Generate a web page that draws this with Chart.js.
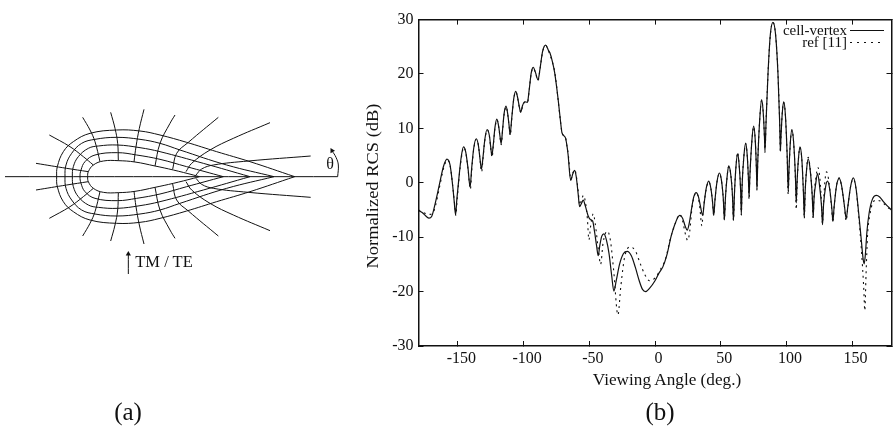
<!DOCTYPE html>
<html>
<head>
<meta charset="utf-8">
<script src="https://cdn.jsdelivr.net/npm/chart.js@4/dist/chart.umd.min.js"></script>
<style>
    html, body { margin: 0; padding: 0; background: #fff; }
    #page { position: relative; width: 893px; height: 428px; overflow: hidden; font-family: "Liberation Serif", serif; color: #111; }
    canvas { position: absolute; top: 0; }
    #meshChart { left: 0; }
    #rcsChart { left: 345px; }
    .label { position: absolute; white-space: nowrap; transform: translate(-50%, -50%); }
    .legend-text { position: absolute; right: 46px; font-size: 15px; line-height: 14px; white-space: nowrap; }
    .legend-line { position: absolute; left: 850px; width: 34px; height: 1px; }
</style>
</head>
<body>
<div id="page">
    <canvas id="meshChart" width="345" height="428"></canvas>
    <canvas id="rcsChart" width="548" height="428"></canvas>
    <div class="label" style="left:330px;top:164px;font-size:16px;">θ</div>
    <div class="label" style="left:164px;top:262px;font-size:16.5px;">TM / TE</div>
    <div class="label" style="left:128px;top:412px;font-size:25px;">(a)</div>
    <div class="label" style="left:660px;top:412px;font-size:25px;">(b)</div>
    <div class="label" style="left:667px;top:380px;font-size:17.2px;">Viewing Angle (deg.)</div>
    <div class="label" style="left:373px;top:185.5px;font-size:17px;transform:translate(-50%, -50%) rotate(-90deg) scaleX(1.085);">Normalized RCS (dB)</div>
    <div class="legend-text" style="top:23px;">cell-vertex</div>
    <div class="legend-line" style="top:30px;background:#111;"></div>
    <div class="legend-text" style="top:35px;">ref [11]</div>
    <div class="legend-line" style="top:42px;background:repeating-linear-gradient(90deg, #111 0 2px, transparent 2px 7px);"></div>
</div>
<script>
// Viewing angle sweep
const solidAngles = [
    -180, -177, -174, -172, -170, -167, -164, -161, -158.4, -156, -154, -152.8, -151.8, -150.8, -149, -147.5, -145.8,
    -144, -142.3, -140.7, -139.6, -138, -136.1, -134.5, -133, -132.1, -131, -129.5, -127.8, -126, -125, -124.2,
    -123, -121.8, -120.4, -119, -118, -117.1, -116, -114.8, -113.4, -112, -111, -110.3, -109, -107.5, -106,
    -104.5, -103.3, -102.2, -100.8, -99.2, -97.1, -95.8, -94.2, -92.6, -91, -89, -87.5, -85.5, -83.2,
    -81, -80, -78, -76.4, -73.8, -72, -70.8, -68.2, -67, -66.2, -64.2, -62.5, -61.2, -60, -58.5, -57.4,
    -56, -54.6, -53, -51, -49, -47.5, -46, -44.5, -43.2, -42, -40.5, -38.9, -37, -35, -33, -31.3,
    -29.5, -27, -24, -21.1, -18, -15, -12, -9.5, -7.2, -4.2, 0, 3, 5.9, 9, 12.3, 15, 18.8,
    21, 23, 24.5, 26, 28, 29.5, 31.3, 33, 34.5, 36.3, 37.5, 39, 40.9, 42.5, 43.8, 44.7, 45.6, 47.2, 49,
    50.5, 52, 52.8, 53.6, 55, 56.1, 57.5, 59, 59.7, 60.5, 61.7, 62.9, 64, 65.2, 65.7, 66.3, 67.7, 69,
    70.2, 71.1, 71.6, 72.2, 73.7, 75.1, 76.3, 77.2, 77.6, 78.2, 79.8, 81.2, 82.4, 83.3, 83.7, 84.5, 86, 87.8, 89.8,
    91.8, 93.6, 94.9, 95.4, 95.9, 96.8, 97.9, 99.2, 100.6, 101.4, 102, 103, 104.2, 105.5, 106.9, 107.5, 108.2, 109.2, 110.3,
    111.7, 113, 113.6, 114.3, 115.4, 116.6, 118, 119.7, 120.4, 121, 122.4, 123.7, 125, 126.8, 127.5, 128.3, 129.8, 131.3,
    133, 134.7, 135.4, 136.3, 138.2, 140.2, 142, 144.3, 145.5, 146.7, 149, 151, 153, 155, 157, 158.4, 159.2, 160, 161.3,
    163, 165.5, 168.5, 171, 174, 177, 180
];
const solidValues = [
    -5.1, -5.5, -6.2, -6.5, -6.2, -3.5, -0.2, 3, 4.35, 3.3, -0.5, -3.5, -5.9, -3, 1.5, 4.7, 6.6,
    5.6, 2.6, -0.8, 2.5, 6.3, 8.1, 7, 4, 2.5, 4.5, 8, 9.8, 8.6, 6.5, 5,
    7.2, 10.2, 11.7, 10.4, 8.6, 7.2, 9.8, 12.8, 14.1, 12.5, 10.4, 8.9, 12, 15.5, 16.8,
    15.6, 14, 13, 14.2, 14.9, 14.8, 17, 20.2, 21.2, 20.3, 18.9, 21, 24.2, 25.3,
    24.3, 23.9, 22.2, 20.3, 15.5, 11.5, 9.2, 8.3, 6.8, 5.3, 0.45, 1.7, 2.3, 1.2, -2, -4.4,
    -3.8, -3.2, -4.3, -6, -6.8, -7, -9, -11.5, -13.4, -11.5, -9.8, -9.4, -10.5, -13, -17, -19.9,
    -18, -15, -13, -12.6, -13.4, -15.5, -18, -19.6, -20, -19.4, -18, -16.6, -15.5, -13.3, -9.8, -7.7, -6,
    -6.5, -8, -8.7, -7.5, -4.5, -2.6, -1.8, -2.5, -4.2, -6, -3.6, -1, 0.3, -1, -3.5, -6, -3.3, 0.2, 1.8,
    0.6, -3, -6.8, -2.8, 1.4, 3.1, 1.8, -2.5, -6.9, -1.8, 3.2, 5.3, 3.4, -1.5, -5.9, -0.5, 5, 7.3,
    5, 0.8, -2.6, 1.2, 7.6, 10.4, 7.8, 2.5, -1.2, 3.8, 12, 15.3, 12.8, 8.5, 5.8, 11, 20, 27.3, 29.5,
    27.2, 20, 11, 5.8, 8.5, 12.6, 14.9, 12.6, 5, -1.6, 2.5, 7.4, 9.8, 7.5, 1, -3.7, 0.5, 4.5, 6.6,
    4.5, -2, -6.3, -1.5, 2.5, 4.4, 2.6, -2.5, -6.4, -3, 0, 1.7, 0, -4.5, -7.7, -4, -0.8, 0.3,
    -1.2, -5, -7.1, -4.5, -0.5, 0.8, -0.5, -4.5, -6.6, -4.5, -0.5, 0.9, -1, -5.5, -10.5, -14, -14.9, -13.5, -9,
    -5.5, -3, -2.3, -2.6, -3.5, -4.3, -5
];
const refAngles = [
    -180, -177, -174, -171, -168, -164, -161, -158, -155.5, -153.8, -152.6, -151.6, -150.6, -149, -147.4, -145.6,
    -144, -142.3, -140.5, -139.5, -138, -136, -134.4, -133, -131.9, -131, -129.5, -127.6, -126, -125, -124,
    -123, -121.8, -120.2, -119, -118, -117, -116, -114.8, -113.2, -112, -111, -110.1, -109, -107.5, -105.8,
    -104.5, -103.3, -102, -100.8, -99, -97, -95.8, -94.2, -92.4, -91, -89, -87.5, -85.5, -83,
    -81, -78, -76.2, -73.8, -72, -70.6, -68, -67, -66, -64, -62.5, -61, -60, -58.5, -57.2,
    -56, -54.4, -53, -51.5, -50.3, -49, -47, -45.5, -43, -41.4, -39.5, -36.3, -34, -31.5, -28.2,
    -26, -23, -18.6, -15, -11, -7.5, -4.2, 0, 4, 8, 12, 15, 18.8,
    21, 23.2, 24.9, 26.5, 28, 29.5, 31.3, 33, 34.3, 35.6, 37, 39, 40.9, 42.5, 43.8, 44.7, 45.6, 47.2, 49,
    50.5, 52, 52.8, 53.6, 55, 56.1, 57.5, 59, 59.7, 60.5, 61.7, 62.9, 64, 65.2, 65.7, 66.3, 67.7, 69,
    70.2, 71.1, 71.6, 72.2, 73.7, 75.1, 76.3, 77.2, 77.6, 78.2, 79.8, 81.2, 82.4, 83.3, 83.7, 84.5, 86, 87.8, 89.8,
    91.8, 93.6, 94.9, 95.4, 95.9, 96.8, 97.9, 99.2, 100.6, 101.4, 102, 103, 104.2, 105.5, 106.9, 107.5, 108.2, 109.2, 110.3,
    111.7, 113, 113.6, 114.3, 115.4, 116.6, 118, 119.7, 120.4, 121, 122.4, 124, 125.5, 126.8, 127.5, 128.3, 129.3, 130.5,
    132.5, 134.5, 135.4, 136.3, 138.2, 140.2, 142, 144.3, 145.5, 146.7, 149, 151, 153, 155, 157, 158.8, 159.7, 160.6, 161.8,
    163.5, 165.5, 168.5, 171, 174, 177, 180
];
const refValues = [
    -5, -5.4, -5.7, -5.8, -5, -0.8, 2.6, 4.2, 2.6, -1, -3.7, -6, -3.2, 1.2, 4.5, 6.5,
    5.5, 2.5, -1.2, 2.2, 6.1, 8, 6.9, 3.8, 2, 4.2, 7.8, 9.7, 8.5, 6.3, 4.7,
    7, 10, 11.6, 10.3, 8.5, 7, 9.6, 12.6, 14, 12.4, 10.3, 8.7, 11.8, 15.4, 16.7,
    15.5, 13.9, 12.9, 14.1, 14.8, 14.7, 16.9, 20.1, 21.1, 20.2, 18.8, 20.9, 24.1, 25.2,
    24.2, 22.1, 20.2, 15.4, 11.4, 9.1, 8.2, 6.7, 5.2, 0.6, 1.8, 2.4, 1.4, -1.4, -4.1,
    -3.2, -2.3, -3.5, -6.5, -10.5, -8, -5.7, -7.5, -12.5, -15, -11, -8.9, -10.5, -16, -24.3,
    -19, -13.5, -11.8, -12.5, -15, -17, -18, -17.5, -16, -14, -10, -7.8, -5.8,
    -7, -9.5, -10.6, -8.8, -5, -2.8, -1.8, -2.7, -5, -7.9, -4.4, -1.2, 0.2, -1, -3.5, -6, -3.3, 0.2, 1.7,
    0.5, -3, -6.8, -2.8, 1.4, 3, 1.8, -2.5, -6.9, -1.8, 3.2, 5.6, 3.4, -1.5, -5.9, -0.5, 5, 7.2,
    5, 0.6, -3.1, 1, 7.5, 10.3, 7.8, 2.4, -1.4, 3.8, 12, 15.2, 12.8, 8.4, 5.6, 11, 20, 27.2, 29.5,
    27.1, 20, 11, 5.6, 8.5, 12.6, 14.8, 12.6, 4.8, -2.2, 2.2, 7.3, 9.7, 7.4, 0.5, -4.9, 0, 4.4, 6.5,
    4.4, -2, -6.6, -1.6, 2.6, 4.7, 2.8, -2.5, -6.6, -2.6, 0.8, 2.8, 0.8, -4, -7.5, -3.6, 0.2, 2,
    0, -5, -7.3, -4.6, -0.4, 0.9, -0.6, -4.6, -7, -4.6, -0.5, 0.7, -1.2, -6, -12, -19, -23.5, -17, -9.5,
    -6, -3.8, -3.2, -3.3, -3.8, -4.5, -5
];
const xTicks = [-150, -100, -50, 0, 50, 100, 150];
const yTicks = [-30, -20, -10, 0, 10, 20, 30];

// Airfoil mesh of panel (a), upper half only, x along the chord and y above the centre line
const meshRings = [
    [[263, 0], [265, 15], [280, 35], [310, 47], [355, 48], [405, 44], [465, 32], [520, 20], [580, 5], [598, 0]],
    [[240, 0], [243, 20], [255, 45], [285, 65], [352, 72], [410, 65], [480, 52], [560, 30], [670, 0]],
    [[217, 0], [220, 30], [235, 60], [265, 85], [295, 92], [352, 95], [420, 87], [480, 75], [610, 40], [750, 0]],
    [[195, 0], [198, 35], [215, 70], [245, 100], [285, 112], [350, 118], [420, 112], [480, 100], [540, 80], [680, 35], [822, 0]],
    [[170, 0], [172, 30], [190, 75], [220, 105], [270, 130], [350, 140], [420, 137], [480, 125], [560, 103], [650, 75], [750, 45], [884, 0]]
];
const meshSpokes = [
    [[108, 40], [200, 25], [265, 15]],
    [[148, 125], [210, 90], [250, 60], [280, 35]],
    [[248, 178], [270, 140], [285, 105], [300, 45]],
    [[332, 193], [345, 145], [353, 100], [355, 48]],
    [[432, 202], [418, 145], [408, 90], [402, 44]],
    [[525, 185], [510, 160], [480, 100], [465, 32]],
    [[655, 178], [565, 103], [530, 70], [518, 22]],
    [[810, 162], [700, 115], [630, 80], [575, 40], [558, 15]],
    [[932, 62], [745, 47], [640, 35], [605, 23], [588, 5]]
];
const centreLine = [[15, 0], [1013, 0]];
const angleArrow = [[1013, 0], [1015, 35], [1008, 58], [996, 78]];
const incidentArrow = [[385, -292], [385, -232]];

const inkColor = '#111';

function toPoints(pairs) {
    return pairs.map(p => ({ x: p[0], y: p[1] }));
}

function flipped(pairs) {
    return pairs.map(p => [p[0], -p[1]]);
}

function meshLine(pairs) {
    return {
        data: toPoints(pairs),
        borderColor: inkColor,
        borderWidth: 1,
        tension: 0.4,
        pointRadius: 0
    };
}

function arrowLine(pairs, rotation) {
    return {
        data: toPoints(pairs),
        borderColor: inkColor,
        backgroundColor: inkColor,
        borderWidth: 1,
        tension: 0.4,
        pointStyle: 'triangle',
        pointRadius: pairs.map((p, i) => i === pairs.length - 1 ? 3 : 0),
        pointRotation: rotation,
        pointBorderWidth: 0
    };
}

// Panel (a)
const meshDatasets = [meshLine(centreLine)];
meshRings.forEach(ring => {
    // one curve round the nose, so the lower half comes first in reverse
    meshDatasets.push(meshLine(flipped(ring).reverse().concat(ring.slice(1))));
});
meshSpokes.forEach(spoke => {
    meshDatasets.push(meshLine(spoke));
    meshDatasets.push(meshLine(flipped(spoke)));
});
meshDatasets.push(arrowLine(angleArrow, -30));
meshDatasets.push(arrowLine(incidentArrow, 0));

new Chart(document.getElementById('meshChart'), {
    type: 'line',
    data: { datasets: meshDatasets },
    options: {
        responsive: false,
        animation: false,
        events: [],
        layout: { autoPadding: false },
        plugins: { legend: { display: false }, tooltip: { enabled: false } },
        scales: {
            x: { type: 'linear', display: false, min: 0, max: 1035 },
            y: { type: 'linear', display: false, min: -754, max: 530 }
        }
    }
});

// Panel (b)
function pairUp(angles, values) {
    return angles.map((a, i) => ({ x: a, y: values[i] }));
}

const axisFont = { family: '"Liberation Serif", serif', size: 16 };

function frameAxis(position, ticks, showLabels, afterFit) {
    return {
        type: 'linear',
        position: position,
        min: ticks[0] === -150 ? -180 : -30,
        max: ticks[0] === -150 ? 180 : 30,
        afterFit: afterFit,
        afterBuildTicks: function(axis) {
            axis.ticks = ticks.map(v => ({ value: v }));
        },
        border: { color: inkColor, width: 1.5 },
        grid: { drawOnChartArea: false, color: inkColor, tickLength: -5, tickWidth: 1 },
        ticks: { display: showLabels, color: inkColor, font: axisFont, padding: 10, maxRotation: 0, autoSkip: false }
    };
}

const xBottom = frameAxis('bottom', xTicks, true, s => { s.height = 82; });
xBottom.ticks.padding = 8;
xBottom.ticks.labelOffset = 3.5;
const yLeft = frameAxis('left', yTicks, true, s => { s.width = 73.5; });

new Chart(document.getElementById('rcsChart'), {
    type: 'line',
    data: {
        datasets: [
            {
                label: 'ref [11]',
                data: pairUp(refAngles, refValues),
                xAxisID: 'x',
                yAxisID: 'y',
                borderColor: inkColor,
                borderWidth: 1.1,
                borderDash: [2, 4],
                cubicInterpolationMode: 'monotone',
                pointRadius: 0
            },
            {
                label: 'cell-vertex',
                data: pairUp(solidAngles, solidValues),
                xAxisID: 'x',
                yAxisID: 'y',
                borderColor: inkColor,
                borderWidth: 1.2,
                cubicInterpolationMode: 'monotone',
                pointRadius: 0
            }
        ]
    },
    options: {
        responsive: false,
        animation: false,
        events: [],
        layout: { padding: { top: 12.5, right: 1.5, left: 0, bottom: 0 } },
        plugins: { legend: { display: false }, tooltip: { enabled: false } },
        scales: {
            x: xBottom,
            y: yLeft,
            xTop: frameAxis('top', xTicks, false, s => { s.height = 0; }),
            yRight: frameAxis('right', yTicks, false, s => { s.width = 0; })
        }
    }
});
</script>
</body>
</html>
